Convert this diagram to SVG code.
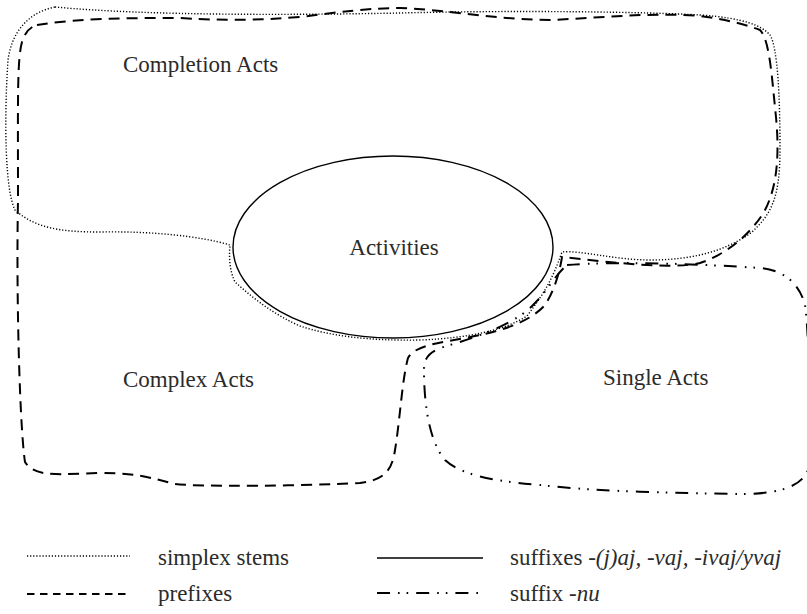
<svg xmlns="http://www.w3.org/2000/svg" width="807" height="614" viewBox="0 0 807 614">
<style>
  .lbl { font-family: "Liberation Serif", "DejaVu Serif", "Times New Roman", serif; font-size: 23px; fill: #2b2b2b; }
  .it { font-style: italic; }
  .dot { fill: none; stroke: #000; stroke-width: 1.4; stroke-dasharray: 1.2 1.9; }
  .dash { fill: none; stroke: #000; stroke-width: 2; stroke-dasharray: 11 7; }
  .dashL { fill: none; stroke: #000; stroke-width: 2; stroke-dasharray: 7.5 5.5; }
  .dd { fill: none; stroke: #000; stroke-width: 2; stroke-dasharray: 13 8 1.6 7 1.6 8; }
  .solid { fill: none; stroke: #000; stroke-width: 1.4; }
</style>
<rect width="807" height="614" fill="#fff"/>

<g id="connectors">
  <path id="simplex-stems" class="dot" d="M 55,7 C 150,16 300,15 400,13 C 520,10 650,12 700,15 C 745,18 762,26 770,35 C 778,48 780,100 780,150 C 780,200 770,215 752,232 C 725,252 690,260 650,260 C 615,260 580,250 562,252 C 552,280 545,292 527,316 C 505,330 470,338 420,340 C 370,341 330,336 300,326 C 275,315 255,300 235,282 C 229,270 229,255 230,245 C 200,236 150,231 100,232 C 60,232 35,228 15,210 C 5,190 4,120 8,60 C 12,30 30,12 55,7 Z"/>
  <path id="prefixes" class="dash" d="M 37,25 C 80,18 130,18 180,18 C 230,21 260,20 300,17 C 340,12 370,8 400,8 C 450,10 500,20 550,20 C 600,18 650,12 700,16 C 730,20 750,26 760,30 C 770,40 772,80 776,117 C 780,160 776,190 764,212 C 750,235 725,255 700,263 C 670,270 610,262 562,257 C 560,270 555,290 545,305 C 530,322 500,332 465,338 C 440,343 415,345 408,358 C 402,380 400,420 395,450 C 392,470 385,480 360,483 C 300,486 200,487 175,484 C 150,478 140,473 100,473 C 60,474 35,478 25,462 C 20,430 16,300 18,200 C 18,100 17,60 22,42 C 25,32 30,27 37,25 Z"/>
  <path id="suffix-nu" class="dd" d="M 567,265 C 620,261 700,264 760,268 C 785,270 800,285 805,305 C 810,340 810,440 808,470 C 800,490 770,494 740,494 C 680,493 600,492 540,485 C 490,481 460,474 445,460 C 428,440 424,400 424,370 C 424,355 432,350 450,345 C 490,333 520,320 535,303 C 548,290 555,275 567,265 Z"/>
</g>

<g id="activities">
  <ellipse class="solid" cx="393" cy="247" rx="160" ry="91"/>
  <text class="lbl" x="394" y="255" text-anchor="middle" font-family="Liberation Serif, DejaVu Serif, serif">Activities</text>
</g>
<g id="completion-acts">
  <text class="lbl" x="123" y="72" font-family="Liberation Serif, DejaVu Serif, serif">Completion Acts</text>
</g>
<g id="complex-acts">
  <text class="lbl" x="123" y="387" font-family="Liberation Serif, DejaVu Serif, serif">Complex Acts</text>
</g>
<g id="single-acts">
  <text class="lbl" x="603" y="385" font-family="Liberation Serif, DejaVu Serif, serif">Single Acts</text>
</g>

<g id="legend" font-family="Liberation Serif, DejaVu Serif, serif">
  <line class="dot" x1="27" y1="556" x2="130" y2="556"/>
  <text class="lbl" x="158" y="565">simplex stems</text>
  <line class="dashL" x1="27" y1="594" x2="128" y2="594"/>
  <text class="lbl" x="158" y="601">prefixes</text>
  <line class="solid" x1="377" y1="558" x2="483" y2="558"/>
  <text class="lbl" x="510" y="565">suffixes <tspan class="it">-(j)aj, -vaj, -ivaj/yvaj</tspan></text>
  <line class="dd" x1="377" y1="593" x2="480" y2="593"/>
  <text class="lbl" x="510" y="601">suffix <tspan class="it">-nu</tspan></text>
</g>
</svg>
